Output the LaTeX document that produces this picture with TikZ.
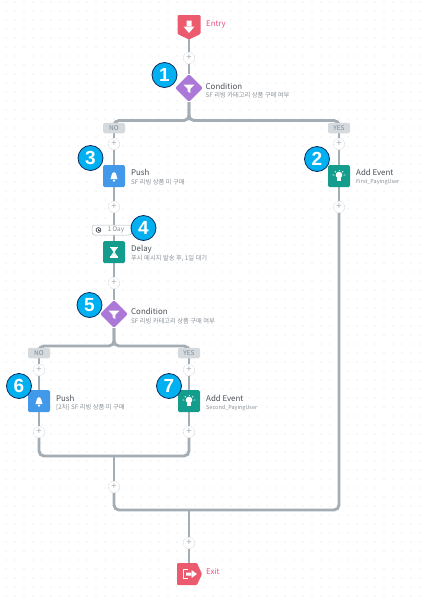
\documentclass[tikz,border=0pt]{standalone}
\usepackage{fontspec}
\setmainfont{Noto Sans CJK KR}
\newfontfamily\numfont{Liberation Sans}
\usetikzlibrary{calc, positioning, arrows.meta, shapes.geometric, backgrounds}

\definecolor{flowgray}{HTML}{A4ACB4}
\definecolor{tagfill}{HTML}{D5DADF}
\definecolor{tagtext}{HTML}{7F8790}
\definecolor{subtext}{HTML}{8A9097}
\definecolor{titletext}{HTML}{4A4F55}
\definecolor{dotgray}{HTML}{D8DCE0}
\definecolor{entryred}{HTML}{EC5A6E}
\definecolor{entrypink}{HTML}{EE4A80}
\definecolor{condpurple}{HTML}{AB78D8}
\definecolor{pushblue}{HTML}{4299EA}
\definecolor{eventteal}{HTML}{149C8C}
\definecolor{bubblefill}{HTML}{00B0F0}
\definecolor{bubbleline}{HTML}{0B2A5B}

\tikzset{
    flow/.style={draw=flowgray, line width=2.9pt, rounded corners=5pt},
    addbtn/.style={circle, draw=flowgray!80, densely dotted, line width=0.5pt, fill=white,
        minimum size=11.5pt, inner sep=0pt, text=flowgray, font=\fontsize{9.5}{9.5}\selectfont},
    tagbox/.style={fill=tagfill, rounded corners=2pt, minimum width=22pt, minimum height=10.5pt,
        inner sep=0pt, text=tagtext, font=\fontsize{6.5}{7}\selectfont},
    actbox/.style={rounded corners=1.5pt, minimum size=22pt, inner sep=0pt},
    condbox/.style={diamond, fill=condpurple, rounded corners=2pt, minimum size=28pt, inner sep=0pt},
    bubble/.style={circle, fill=bubblefill, draw=bubbleline, line width=0.8pt, minimum size=25pt,
        inner sep=0pt, text=white, font=\numfont\bfseries\fontsize{19}{19}\selectfont},
    titlelabel/.style={anchor=west, inner sep=0pt, text=titletext, font=\fontsize{7.9}{9}\selectfont},
    sublabel/.style={anchor=west, inner sep=0pt, text=subtext, font=\fontsize{6.3}{7}\selectfont},
    idlabel/.style={anchor=west, inner sep=0pt, text=subtext, font=\fontsize{5.5}{7}\selectfont},
    endlabel/.style={anchor=west, inner sep=0pt, text=entrypink, font=\fontsize{7.8}{9}\selectfont},
    bellicon/.pic={
        \fill[white] (-3.6,3) .. controls (-2.4,2) and (-3,-3.8) .. (0,-3.8)
            .. controls (3,-3.8) and (2.4,2) .. (3.6,3) -- cycle;
        \fill[white] (0,4.6) circle (1.2);
    },
    bulbicon/.pic={
        \fill[white] (0,-1) circle (3.3);
        \fill[white] (-1.6,2) rectangle (1.6,5.2);
        \foreach \ang in {-170,-130,-90,-50,-10}
            \draw[white, line width=0.7pt] (\ang:4.8) -- (\ang:6.4);
    },
    funnelicon/.pic={
        \fill[white] (-5.5,-3.5) -- (5.5,-3.5) -- (1.3,0.8) -- (1.3,5) -- (-1.3,3.4) -- (-1.3,0.8) -- cycle;
    },
    glassicon/.pic={
        \fill[white] (-3.8,-5.5) rectangle (3.8,-4.2);
        \fill[white] (-3.8,4.2) rectangle (3.8,5.5);
        \draw[white, line width=0.9pt] (-2.8,-4.2) -- (2.8,4.2) -- (-2.8,4.2) -- (2.8,-4.2) -- cycle;
        \fill[white] (-2.6,-4.2) -- (2.6,-4.2) -- (0,-0.4) -- cycle;
        \fill[white] (-2.2,4.2) -- (2.2,4.2) -- (0,1.2) -- cycle;
    },
    clockicon/.pic={
        \draw[titletext, line width=0.7pt] (0,0) circle (2.4);
        \draw[titletext, line width=0.5pt] (0,-1.4) -- (0,0) -- (1.2,0);
    }
}

\begin{document}
\begin{tikzpicture}[x=1pt, y=-1pt]
    \useasboundingbox (0,0) rectangle (422,598);

    \coordinate (entry) at (189,27);
    \coordinate (exit) at (189,574);
    \coordinate (split1) at (189,120.5);
    \coordinate (split2) at (114,346);
    \coordinate (merge1) at (114,456);
    \coordinate (merge2) at (189,510);

    \foreach \name/\x/\y in {add0/189/58, add1/114/144, add2/339/144, add3/114/207, add4/339/207,
        add5/114/283, add6/39/370, add7/189/370, add8/39/432, add9/189/432, add10/114/487, add11/189/543}
        \node[addbtn] (\name) at (\x,\y) {+};

    % first condition
    \node[condbox] (cond1) at (189,88) {};
    \pic at (cond1) {funnelicon};
    \node[titlelabel] (cond1title) at (205.5,86) {Condition};
    \node[sublabel] (cond1sub) at (205.5,95.5) {SF 리빙 카테고리 상품 구매 여부};
    \node[tagbox] (no1) at (114,128) {NO};
    \node[tagbox] (yes1) at (339,128) {YES};

    % left branch
    \node[actbox, fill=pushblue] (push1) at (114,176) {};
    \pic at (push1) {bellicon};
    \node[titlelabel] (push1title) at (131,172.5) {Push};
    \node[sublabel] (push1sub) at (131,182) {SF 리빙 상품 미 구매};

    \node[draw=flowgray!80, fill=white, line width=0.5pt, rounded corners=3pt, minimum width=40pt,
        minimum height=10pt, inner sep=0pt, text=subtext, font=\fontsize{6.4}{7}\selectfont] (tag1day) at (112,230) {\hspace{8pt}1 Day};
    \pic at (98.5,230) {clockicon};

    \node[actbox, fill=eventteal] (delay1) at (114,252) {};
    \pic at (delay1) {glassicon};
    \node[titlelabel] (delay1title) at (131,249.5) {Delay};
    \node[sublabel] (delay1sub) at (131,258.5) {푸시 메시지 발송 후, 1일 대기};

    % right branch
    \node[actbox, fill=eventteal] (event1) at (339,176) {};
    \pic at (event1) {bulbicon};
    \node[titlelabel] (event1title) at (356,172.5) {Add Event};
    \node[idlabel] (event1sub) at (356,182.5) {First\_PayingUser};

    % second condition
    \node[condbox] (cond2) at (114,314) {};
    \pic at (cond2) {funnelicon};
    \node[titlelabel] (cond2title) at (131,311.5) {Condition};
    \node[sublabel] (cond2sub) at (131,321) {SF 리빙 카테고리 상품 구매 여부};
    \node[tagbox] (no2) at (39,353) {NO};
    \node[tagbox] (yes2) at (189,353) {YES};

    \node[actbox, fill=pushblue] (push2) at (39,401) {};
    \pic at (push2) {bellicon};
    \node[titlelabel] (push2title) at (56,398) {Push};
    \node[sublabel] (push2sub) at (56,407.5) {[2차] SF 리빙 상품 미 구매};

    \node[actbox, fill=eventteal] (event2) at (189,401) {};
    \pic at (event2) {bulbicon};
    \node[titlelabel] (event2title) at (206,398) {Add Event};
    \node[idlabel] (event2sub) at (206,407.5) {Second\_PayingUser};

    % entry and exit
    \fill[entryred, rounded corners=1pt] (177.5,15) -- (200.5,15) -- (200.5,34) -- (189,39.5) -- (177.5,34) -- cycle;
    \fill[white] (186.5,20.5) rectangle (191.5,27) (183.5,26.5) -- (194.5,26.5) -- (189,33) -- cycle;
    \node[endlabel] (entrytitle) at (206,24.5) {Entry};

    \fill[entryred, rounded corners=1pt] (177,563) -- (197,563) -- (202,574) -- (197,585) -- (177,585) -- cycle;
    \draw[white, line width=0.9pt] (188,569.5) -- (183,569.5) -- (183,578.5) -- (188,578.5);
    \fill[white] (186,572.5) rectangle (192,575.5) (191.5,570) -- (197,574) -- (191.5,578) -- cycle;
    \node[endlabel] (exittitle) at (206,572) {Exit};

    % numbers
    \node[bubble] (num1) at (164.5,75) {1};
    \node[bubble] (num2) at (317,159) {2};
    \node[bubble] (num3) at (90.5,158) {3};
    \node[bubble] (num4) at (143.5,228) {4};
    \node[bubble] (num5) at (89.5,305) {5};
    \node[bubble] (num6) at (19,386) {6};
    \node[bubble] (num7) at (169,386) {7};

    % grid of dots and connectors
    \begin{scope}[on background layer]
        \foreach \i in {0,...,46}
            \foreach \j in {0,...,66}
                \fill[dotgray] (6+9*\i, 2+9*\j) circle (0.6);

        \draw[flow] (entry) -- (add0) -- (cond1);
        \draw[flow] (cond1) -- (split1) -| (no1);
        \draw[flow] (cond1) -- (split1) -| (yes1);
        \draw[flow] (no1) -- (add1) -- (push1) -- (add3) -- (delay1) -- (add5) -- (cond2);
        \draw[flow] (yes1) -- (add2) -- (event1) -- (add4);
        \draw[flow] (cond2) -- (split2) -| (no2);
        \draw[flow] (cond2) -- (split2) -| (yes2);
        \draw[flow] (no2) -- (add6) -- (push2) -- (add8);
        \draw[flow] (yes2) -- (add7) -- (event2) -- (add9);
        \draw[flow] (add8) |- (merge1);
        \draw[flow] (add9) |- (merge1);
        \draw[flow] (merge1) -- (add10);
        \draw[flow] (add10) |- (merge2);
        \draw[flow] (add4) |- (merge2);
        \draw[flow] (merge2) -- (add11) -- (exit);
    \end{scope}
\end{tikzpicture}
\end{document}
